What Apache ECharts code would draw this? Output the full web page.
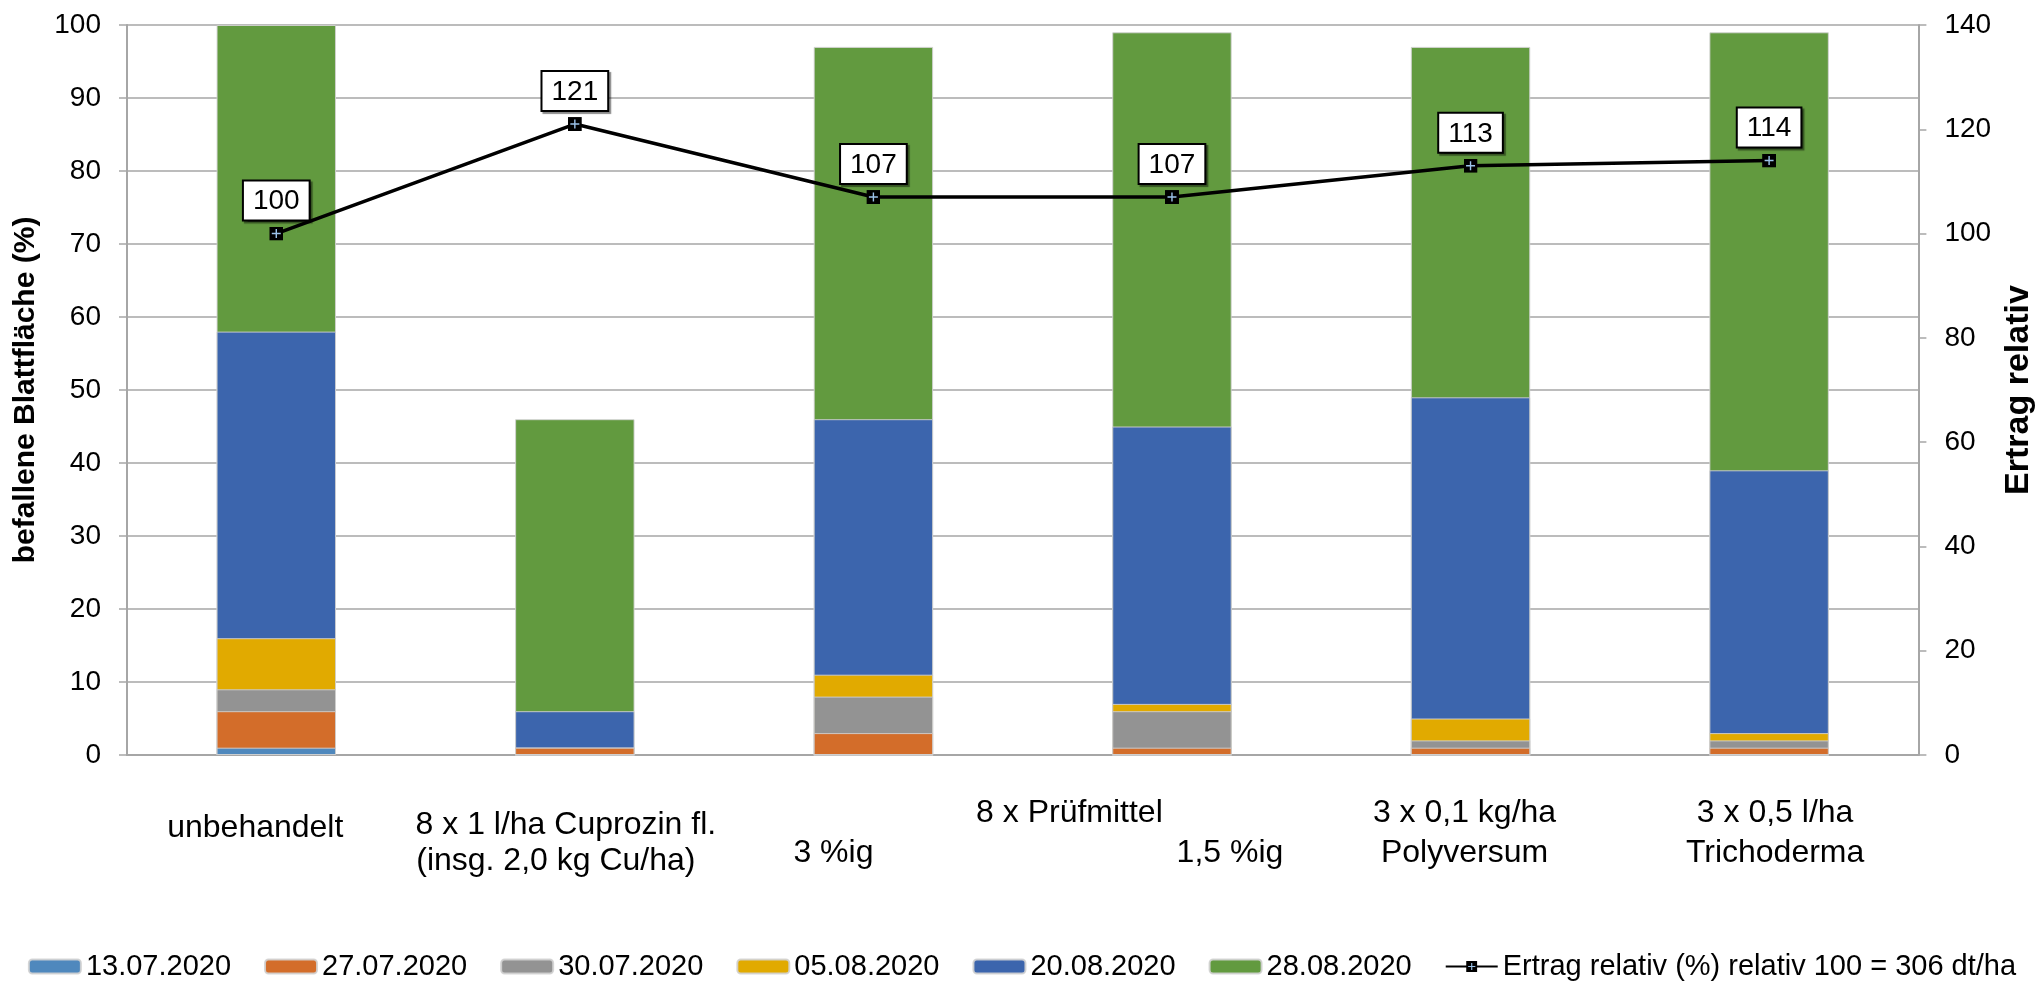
<!DOCTYPE html>
<html>
<head>
<meta charset="utf-8">
<title>Befallene Blattfläche und Ertrag relativ</title>
<script src="https://cdn.jsdelivr.net/npm/echarts@6/dist/echarts.min.js"></script>
<style>
  html, body { margin: 0; padding: 0; background: #ffffff; }
  #chart { width: 2044px; height: 982px; }
</style>
</head>
<body>
<div id="chart"></div>
<script>
// Treatments (x-axis categories); "\n" breaks a label onto a second line
const categories = [
  'unbehandelt',
  '8 x 1 l/ha Cuprozin fl.\n(insg. 2,0 kg Cu/ha)',
  '8 x Prüfmittel\n3 %ig',
  '1,5 %ig',
  '3 x 0,1 kg/ha\nPolyversum',
  '3 x 0,5 l/ha\nTrichoderma'
];

// Rating dates
const dates = ['13.07.2020', '27.07.2020', '30.07.2020', '05.08.2020', '20.08.2020', '28.08.2020'];

// Infested leaf area (%) at each rating date
const befall_13_07 = [1, 0, 0, 0, 0, 0];
const befall_27_07 = [6, 1, 3, 1, 1, 1];
const befall_30_07 = [9, 1, 8, 6, 2, 2];
const befall_05_08 = [16, 1, 11, 7, 5, 3];
const befall_20_08 = [58, 6, 46, 45, 49, 39];
const befall_28_08 = [100, 46, 97, 99, 97, 99];

// Relative yield (100 = 306 dt/ha)
const ertragRelativ = [100, 121, 107, 107, 113, 114];
const ertragName = 'Ertrag relativ (%) relativ 100 = 306 dt/ha';

// Axis ticks
const leftTicks = { min: 0, max: 100, interval: 10 };
const rightTicks = { min: 0, max: 140, interval: 20 };

const befallSeries = [befall_13_07, befall_27_07, befall_30_07, befall_05_08, befall_20_08, befall_28_08];
const barColors = ['#4f88bd', '#d36d2a', '#939393', '#e1aa00', '#3c65ad', '#629a3f'];

const FONT = '"Liberation Sans", Arial, sans-serif';

// Marker: black square with a light blue cross
const markerSvg = "<svg xmlns='http://www.w3.org/2000/svg' width='14' height='14' viewBox='0 0 14 14'>" +
  "<rect x='0' y='0' width='14' height='14' fill='#000000'/>" +
  "<path d='M7 2.5V11.5M2.5 7H11.5' stroke='#9cc3ea' stroke-width='1.4'/></svg>";
const markerSymbol = 'image://data:image/svg+xml;charset=utf-8,' + encodeURIComponent(markerSvg);

// Line layout of each category label (rich style key per line, optional spacer on top)
const labelLines = [
  { spacer: 'sA', styles: ['u0'] },
  { spacer: 'sC', styles: ['c1', 'c2'] },
  { spacer: null, styles: ['p1', 'p2'] },
  { spacer: 'sB', styles: ['q1'] },
  { spacer: null, styles: ['k5', 'k5'] },
  { spacer: null, styles: ['k6', 'k6'] }
];

function formatCategory(value, index) {
  const spec = labelLines[index];
  const parts = value.split('\n');
  const out = [];
  if (spec.spacer) out.push('{' + spec.spacer + '| }');
  parts.forEach(function (p, i) { out.push('{' + spec.styles[i] + '|' + p + '}'); });
  return out.join('\n');
}

const catText = { fontSize: 32, lineHeight: 40, color: '#000000', fontFamily: FONT };
function cat(extra) { return Object.assign({}, catText, extra); }

const series = befallSeries.map(function (values, i) {
  return {
    name: dates[i],
    type: 'bar',
    data: values,
    barWidth: '40%',
    barGap: '-100%',
    z: 8 - i,
    itemStyle: { color: barColors[i], borderColor: 'rgba(210,210,210,0.9)', borderWidth: 1 },
    emphasis: { disabled: true }
  };
});

series.push({
  name: ertragName,
  type: 'line',
  yAxisIndex: 1,
  data: ertragRelativ,
  z: 20,
  symbol: markerSymbol,
  symbolSize: 14,
  lineStyle: { color: '#000000', width: 3.5 },
  itemStyle: { color: '#000000' },
  label: {
    show: true,
    position: 'top',
    distance: 7,
    fontSize: 28,
    fontFamily: FONT,
    color: '#000000',
    backgroundColor: '#ffffff',
    borderColor: '#000000',
    borderWidth: 2,
    padding: [6, 9, 4, 9],
    shadowColor: 'rgba(0,0,0,0.45)',
    shadowOffsetX: 2,
    shadowOffsetY: 2,
    shadowBlur: 1
  },
  emphasis: { disabled: true }
});

const axisGray = '#a6a6a6';

const option = {
  animation: false,
  backgroundColor: '#ffffff',
  textStyle: { fontFamily: FONT },
  grid: { left: 127, right: 103, top: 25, bottom: 227 },
  legend: {
    top: 947,
    left: 'center',
    itemWidth: 52,
    itemHeight: 14,
    itemGap: 33,
    textStyle: { fontSize: 29, color: '#000000', fontFamily: FONT },
    data: dates.concat([ertragName])
  },
  xAxis: {
    type: 'category',
    data: categories,
    axisLine: { show: true, lineStyle: { color: axisGray, width: 2 } },
    axisTick: { show: false },
    axisLabel: {
      interval: 0,
      margin: 38,
      hideOverlap: false,
      verticalAlign: 'top',
      formatter: formatCategory,
      fontSize: 32,
      lineHeight: 40,
      color: '#000000',
      rich: {
        sA: { fontSize: 10, lineHeight: 15 },
        sB: { fontSize: 10, lineHeight: 40 },
        sC: { fontSize: 10, lineHeight: 14 },
        u0: cat({ padding: [0, 42, 0, 0] }),
        c1: cat({ lineHeight: 36, padding: [0, 18, 0, 0] }),
        c2: cat({ lineHeight: 36, padding: [0, 38, 0, 0] }),
        p1: cat({ padding: [0, 0, 0, 392] }),
        p2: cat({ padding: [0, 80, 0, 0] }),
        q1: cat({ padding: [0, 0, 0, 116] }),
        k5: cat({ padding: [0, 12, 0, 0] }),
        k6: cat({ padding: [0, 0, 0, 12] })
      }
    }
  },
  yAxis: [
    {
      type: 'value',
      min: leftTicks.min,
      max: leftTicks.max,
      interval: leftTicks.interval,
      name: 'befallene Blattfläche (%)',
      nameLocation: 'middle',
      nameRotate: 90,
      nameGap: 86,
      nameTextStyle: { fontSize: 30, fontWeight: 'bold', color: '#000000', fontFamily: FONT },
      axisLine: { show: true, lineStyle: { color: axisGray, width: 2 } },
      axisTick: { show: true, length: 8, lineStyle: { color: axisGray, width: 1.5 } },
      axisLabel: { fontSize: 28, color: '#000000', margin: 26, fontFamily: FONT },
      splitLine: { show: true, lineStyle: { color: axisGray, width: 1.5 } }
    },
    {
      type: 'value',
      position: 'right',
      min: rightTicks.min,
      max: rightTicks.max,
      interval: rightTicks.interval,
      name: 'Ertrag relativ',
      nameLocation: 'middle',
      nameRotate: 90,
      nameGap: 66,
      nameTextStyle: { fontSize: 34, fontWeight: 'bold', color: '#000000', fontFamily: FONT },
      axisLine: { show: true, lineStyle: { color: axisGray, width: 2 } },
      axisTick: { show: true, length: 8, lineStyle: { color: axisGray, width: 1.5 } },
      axisLabel: { fontSize: 28, color: '#000000', margin: 26, fontFamily: FONT },
      splitLine: { show: false }
    }
  ],
  series: series
};

const chart = echarts.init(document.getElementById('chart'), null, { renderer: 'canvas' });
chart.setOption(option);
</script>
</body>
</html>
